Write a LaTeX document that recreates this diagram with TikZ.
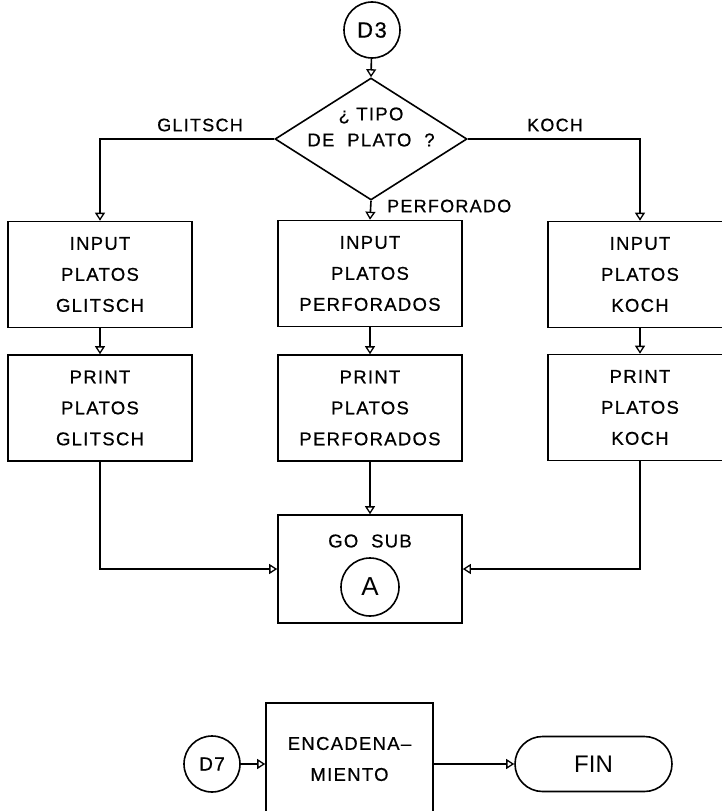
\documentclass[tikz,border=0pt]{standalone}
\usepackage{fontspec}
\setmainfont{Liberation Sans}
\newfontfamily\widefont[LetterSpace=7,FakeBold=0.6]{Liberation Sans}
\usetikzlibrary{arrows.meta,shapes.geometric,shapes.misc}
\begin{document}
\begin{tikzpicture}[x=1pt,y=-1pt,
  line width=1.6pt,
  txt/.style={font=\widefont\fontsize{18.5}{31}\selectfont, align=center},
  stepbox/.style={draw, rectangle, minimum width=184pt, minimum height=106pt, inner sep=0pt, txt},
  conn/.style={draw, circle, minimum size=56pt, inner sep=0pt},
  arr/.style={-{Triangle[open,length=8pt,width=10pt,line width=1.3pt]}},
  lbl/.style={font=\widefont\fontsize{18}{20}\selectfont}
]
\useasboundingbox (0,0) rectangle (722,811);
\clip (0,0) rectangle (722,811);

% top connector and decision
\node[conn, font=\widefont\fontsize{22}{24}\selectfont] (d3) at (372,30) {D3};
\node[draw, diamond, aspect=1.57, minimum width=192pt, minimum height=122pt, inner sep=0pt] (dia) at (371,139) {};
\node[txt, font=\widefont\fontsize{18.5}{26}\selectfont] (diatxt) at (371,127) {¿ TIPO\\DE\ \ PLATO\ \ ?};

% boxes
\node[stepbox] (ig) at (100,274.5) {INPUT\\PLATOS\\GLITSCH};
\node[stepbox] (pg) at (100,408) {PRINT\\PLATOS\\GLITSCH};
\node[stepbox] (ip) at (370,273.5) {INPUT\\PLATOS\\PERFORADOS};
\node[stepbox] (pp) at (370,408) {PRINT\\PLATOS\\PERFORADOS};
\node[stepbox] (ik) at (640,274.5) {INPUT\\PLATOS\\KOCH};
\node[stepbox] (pk) at (640,407.5) {PRINT\\PLATOS\\KOCH};

% GO SUB
\node[draw, rectangle, minimum width=184pt, minimum height=108pt, inner sep=0pt] (gosub) at (370,569) {};
\node[txt] (gosubtxt) at (370,541) {GO\ \ SUB};
\node[conn, minimum size=58pt, font=\fontsize{26}{28}\selectfont] (ca) at (370,587) {A};

% labels
\node[lbl] (lg) at (200,125) {GLITSCH};
\node[lbl] (lk) at (555,125) {KOCH};
\node[lbl, anchor=west] (lp) at (383,206) {PERFORADO};

% connectors
\draw[arr] (d3) -- (dia.north);
\draw[arr] (dia.west) -| (ig.north);
\draw[arr] (dia.east) -| (ik.north);
\draw[arr] (dia.south) -- (ip.north);
\draw[arr] (ig) -- (pg);
\draw[arr] (ip) -- (pp);
\draw[arr] (ik) -- (pk);
\draw[arr] (pp) -- (gosub);
\draw[arr] (pg.south) |- (gosub.west);
\draw[arr] (pk.south) |- (gosub.east);

% bottom part
\node[conn, font=\widefont\fontsize{19}{20}\selectfont] (d7) at (212,764) {D7};
\node[stepbox, minimum width=167pt, minimum height=112pt] (enc) at (349.5,759) {ENCADENA–\\MIENTO};
\node[draw, rounded rectangle, minimum width=157pt, minimum height=55pt, inner sep=0pt, font=\fontsize{24}{26}\selectfont] (fin) at (593.5,764) {FIN};
\draw[arr] (d7.east) -- (d7.east -| enc.west);
\draw[arr] (enc.east |- fin.west) -- (fin.west);
\end{tikzpicture}
\end{document}
